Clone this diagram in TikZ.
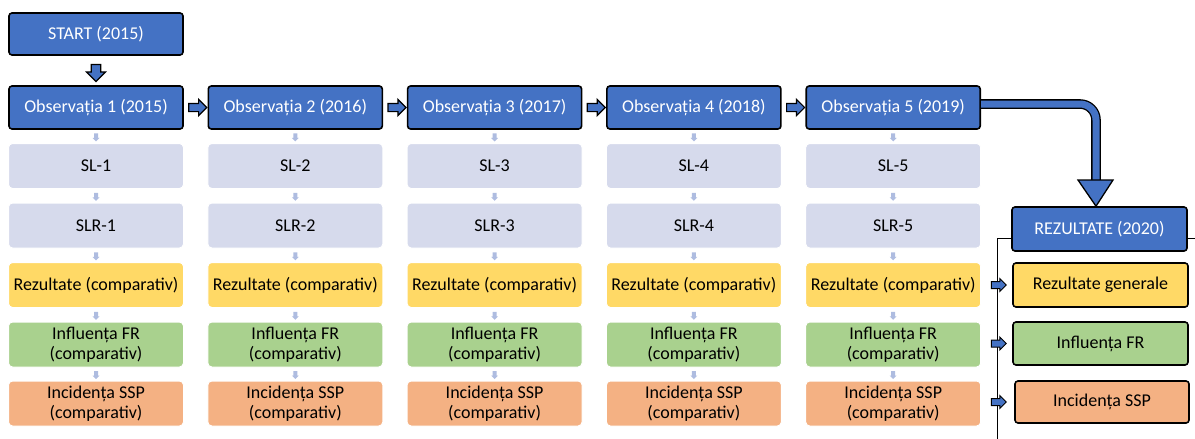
\documentclass[tikz,border=0pt]{standalone}
\usepackage{fontspec}
\setmainfont{Carlito}
\usetikzlibrary{shapes.arrows,calc}
\definecolor{myblue}{HTML}{4472C4}
\definecolor{lav}{HTML}{D6DAEC}
\definecolor{yel}{HTML}{FFD966}
\definecolor{grn}{HTML}{A9D18E}
\definecolor{org}{HTML}{F4B183}
\definecolor{sarr}{HTML}{AEBCE0}
\begin{document}
\begin{tikzpicture}[x=1pt,y=-1pt,
  every node/.style={font=\fontsize{18}{20}\selectfont, align=center, inner sep=0pt},
  obsbox/.style={rectangle, rounded corners=3pt, draw=black, line width=1.6pt, fill=myblue, text=white, minimum width=174pt, minimum height=43pt},
  colbox/.style={rectangle, rounded corners=4pt, draw=white, line width=1pt, minimum width=175pt, minimum height=45pt},
  resbox/.style={rectangle, rounded corners=3pt, draw=black, line width=1.6pt, minimum width=175pt, minimum height=44pt},
  blkarrow/.style={single arrow, draw=black, line width=1.2pt, fill=myblue, inner sep=3.5pt, minimum width=16pt, minimum height=18pt, single arrow head extend=4pt},
  smallblk/.style={single arrow, draw=black, line width=1pt, fill=myblue, inner sep=3pt, minimum width=13pt, minimum height=15pt, single arrow head extend=3pt},
  tinyarrow/.style={single arrow, fill=sarr, inner sep=1.8pt, minimum width=7pt, minimum height=8pt, single arrow head extend=1.5pt, shape border rotate=270},
]
\useasboundingbox (0,0) rectangle (1195,439);

\node[obsbox, minimum height=42pt] (start) at (96,34) {START (2015)};

\foreach \i/\yr in {1/2015,2/2016,3/2017,4/2018,5/2019}{
  \pgfmathsetmacro{\cx}{96+199.3*(\i-1)}
  \node[obsbox] (o\i) at (\cx,107.5) {Observația \i{} (\yr)};
  \node[colbox, fill=lav] (sl\i) at (\cx,166) {SL-\i};
  \node[colbox, fill=lav] (slr\i) at (\cx,225.5) {SLR-\i};
  \node[colbox, fill=yel] (rz\i) at (\cx,285) {Rezultate (comparativ)};
  \node[colbox, fill=grn] (inf\i) at (\cx,344.5) {Influența FR\\(comparativ)};
  \node[colbox, fill=org] (inc\i) at (\cx,403.5) {Incidența SSP\\(comparativ)};
  \node[tinyarrow] at ($(o\i.south)!0.5!(sl\i.north)$) {};
  \node[tinyarrow] at ($(sl\i.south)!0.5!(slr\i.north)$) {};
  \node[tinyarrow] at ($(slr\i.south)!0.5!(rz\i.north)$) {};
  \node[tinyarrow] at ($(rz\i.south)!0.5!(inf\i.north)$) {};
  \node[tinyarrow] at ($(inf\i.south)!0.5!(inc\i.north)$) {};
}

\node[blkarrow, shape border rotate=270, minimum height=17pt, minimum width=19pt] (a0) at ($(start.south)!0.5!(o1.north)$) {};
\foreach \i [evaluate=\i as \j using int(\i+1)] in {1,2,3,4}{
  \node[blkarrow] (a\i) at ($(o\i.east)!0.5!(o\j.west)$) {};
}

% bracket line
\coordinate (lbot) at (997,439);
\coordinate (lcorner) at (997,238);
\coordinate (lright) at (1195,238);
\draw[line width=1pt] (lbot) -- (lcorner) -- (lright);

\node[obsbox, minimum width=175pt, minimum height=44pt] (rez) at (1099.5,229) {REZULTATE (2020)};
\node[resbox, fill=yel] (rg) at (1100.5,285) {Rezultate generale};
\node[resbox, fill=grn, minimum height=43pt] (rf) at (1100.5,343.5) {Influența FR};
\node[resbox, fill=org, minimum width=174pt, minimum height=42pt] (rs) at (1102,402) {Incidența SSP};

\foreach \n in {rg,rf,rs}{
  \node[smallblk] at (lcorner |- \n.west) {};
}

% big bent arrow
\coordinate (bend) at (1096,104);
\coordinate (shaftend) at (1096,183);
\draw[line width=1.3pt, double=myblue, double distance=7pt, rounded corners=16pt] (o5.east |- bend) -- (bend) -- (shaftend);
\draw[line width=1.3pt, fill=myblue, line join=miter] (1078,180) -- (1113,180) -- (rez.north -| bend) -- cycle;
\end{tikzpicture}
\end{document}
